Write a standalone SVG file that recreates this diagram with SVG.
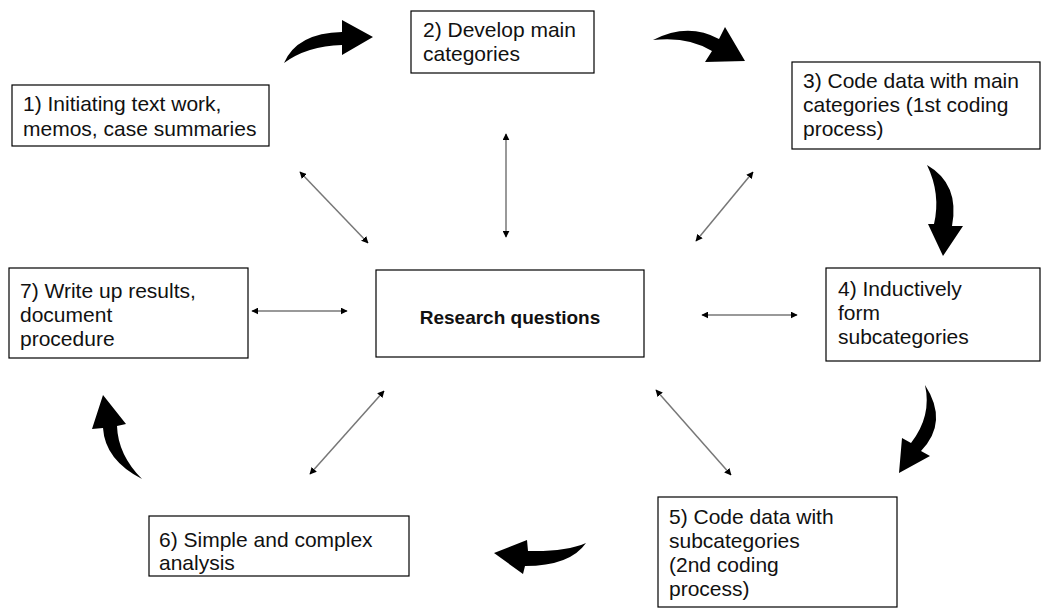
<svg xmlns="http://www.w3.org/2000/svg" width="1048" height="608" viewBox="0 0 1048 608">
<style>
.box{fill:#fff;stroke:#000;stroke-width:1.2}
.t{font-family:"Liberation Sans",Arial,sans-serif;font-size:21px;fill:#111}
.b{font-weight:bold;font-size:19px}
.dl{stroke:#777;stroke-width:1.5;fill:none;marker-start:url(#ah);marker-end:url(#ah)}
.ca{fill:#000}
</style>
<defs>
<marker id="ah" viewBox="0 0 10 10" refX="9" refY="5" markerWidth="7" markerHeight="7" markerUnits="userSpaceOnUse" orient="auto-start-reverse">
<path d="M0,0 L10,5 L0,10 Z" fill="#000"/>
</marker>
</defs>
<rect width="1048" height="608" fill="#fff"/>
<g id="connectors">
<line class="dl" x1="300" y1="172" x2="368" y2="243"/>
<line class="dl" x1="506" y1="134" x2="506" y2="237"/>
<line class="dl" x1="753" y1="172" x2="696" y2="241"/>
<line class="dl" x1="252" y1="311" x2="347" y2="311"/>
<line class="dl" x1="702" y1="315" x2="797" y2="315"/>
<line class="dl" x1="384" y1="391" x2="310" y2="474"/>
<line class="dl" x1="656" y1="390" x2="731" y2="475"/>
<path class="ca" d="M284,63 Q297,33 342,32 L342,20 L373,37 L342,55 L342,45 Q307,46 284,63 Z"/>
<path class="ca" d="M653,40 Q688,22 719,39 L725,27 L745,61 L705,62 L712,51 Q688,36 653,40 Z"/>
<path class="ca" d="M927,165 Q941,194 934,224 L928,224 L943,256 L963,226 L952,226 Q960,184 927,165 Z"/>
<path class="ca" d="M925,385 Q932,416 911,443 L902,438 L899,473 L930,456 L921,451 Q949,422 925,385 Z"/>
<path class="ca" d="M586,543 Q565,552 528,551 L527,540 L494,553 L523,574 L525,566 Q570,566 586,543 Z"/>
<path class="ca" d="M142,479 Q105,460 103,428 L92,429 L103,395 L126,424 L117,426 Q118,455 142,479 Z"/>
</g>
<g id="n1"><rect class="box" x="12" y="85" width="257" height="61"/>
<text class="t" x="23" y="111">1) Initiating text work,</text>
<text class="t" x="23" y="136">memos, case summaries</text></g>
<g id="n2"><rect class="box" x="411" y="11" width="183" height="62"/>
<text class="t" x="423" y="37">2) Develop main</text>
<text class="t" x="423" y="61">categories</text></g>
<g id="n3"><rect class="box" x="792" y="62" width="248" height="87"/>
<text class="t" x="803" y="88">3) Code data with main</text>
<text class="t" x="803" y="112">categories (1st coding</text>
<text class="t" x="803" y="136">process)</text></g>
<g id="n4"><rect class="box" x="826" y="268" width="214" height="93"/>
<text class="t" x="838" y="296">4) Inductively</text>
<text class="t" x="838" y="320">form</text>
<text class="t" x="838" y="344">subcategories</text></g>
<g id="center"><rect class="box" x="376" y="270" width="268" height="87"/>
<text class="t b" x="510" y="324" text-anchor="middle">Research questions</text></g>
<g id="n7"><rect class="box" x="9" y="268" width="239" height="90"/>
<text class="t" x="20" y="298">7) Write up results,</text>
<text class="t" x="20" y="322">document</text>
<text class="t" x="20" y="346">procedure</text></g>
<g id="n6"><rect class="box" x="149" y="516" width="260" height="60"/>
<text class="t" x="159" y="547">6) Simple and complex</text>
<text class="t" x="159" y="570">analysis</text></g>
<g id="n5"><rect class="box" x="658" y="497" width="239" height="110"/>
<text class="t" x="669" y="524">5) Code data with</text>
<text class="t" x="669" y="548">subcategories</text>
<text class="t" x="669" y="572">(2nd coding</text>
<text class="t" x="669" y="596">process)</text></g>
</svg>
